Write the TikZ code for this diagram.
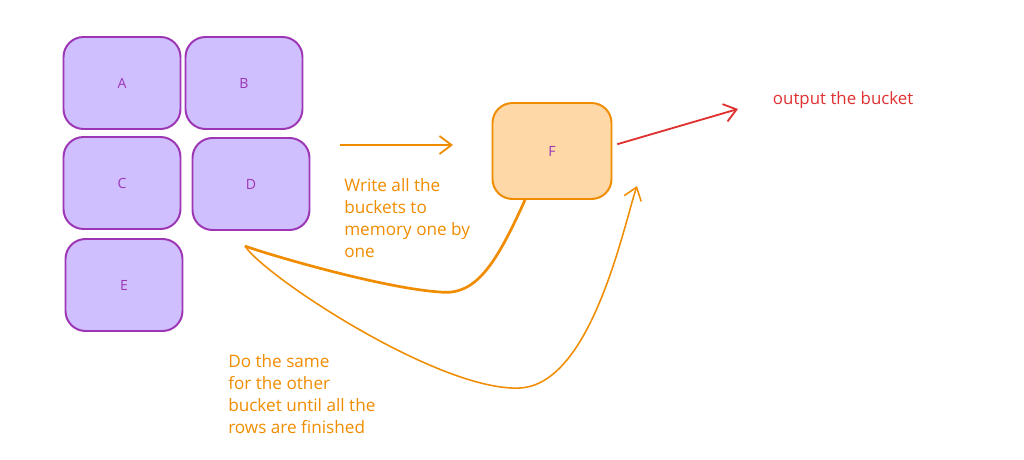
\documentclass[tikz,border=0pt]{standalone}
\usepackage{fontspec}
\setmainfont{Open Sans}
\usetikzlibrary{positioning,arrows.meta}
\definecolor{violetfill}{HTML}{D0BFFF}
\definecolor{violetline}{HTML}{9C36B5}
\definecolor{orangefill}{HTML}{FFD8A8}
\definecolor{orangeline}{HTML}{F08C00}
\definecolor{redline}{HTML}{E03131}
\tikzset{
  bucket/.style={draw=violetline, fill=violetfill, rounded corners=0.5cm, minimum width=2.925cm, minimum height=2.3cm, line width=1.4pt, text=violetline, font=\normalsize},
  membox/.style={bucket, draw=orangeline, fill=orangefill, minimum width=2.975cm, minimum height=2.4cm},
  note/.style={align=left, text=orangeline, font=\fontsize{12.2}{15.6}\selectfont, inner sep=0pt},
  flow/.style={draw=orangeline, line width=1.3pt, -{Straight Barb[length=3mm, width=4.5mm]}}
}
\begin{document}
\begin{tikzpicture}
  \useasboundingbox (0,0) rectangle (25.6,-11.5);
  % buckets
  \node[bucket] (a) at (3.05,-2.075) {A};
  \node[bucket] (b) at (6.1,-2.075) {B};
  \node[bucket] (c) at (3.05,-4.575) {C};
  \node[bucket] (d) at (6.275,-4.6) {D};
  \node[bucket] (e) at (3.1,-7.125) {E};
  \node[membox] (f) at (13.8,-3.775) {F};
  % arrows
  \coordinate (inL) at (8.5,-3.625);
  \coordinate (inR) at (11.325,-3.625);
  \draw[flow] (inL) -- (inR);
  \coordinate (out) at (18.45,-2.725);
  \draw[redline, line width=1.3pt, -{Straight Barb[length=3mm, width=4.5mm]}] ([xshift=0.12cm,yshift=0.17cm]f.east) -- (out);
  \node[anchor=west, text=redline, font=\fontsize{12}{14}\selectfont] (outlbl) at (19.2,-2.5) {output the bucket};
  \coordinate (turn) at (6.125,-6.15);
  \coordinate (back) at (15.925,-4.65);
  \draw[orangeline, line width=1.9pt] ([xshift=-0.675cm]f.south) .. controls (12.4,-6.6) and (11.9,-7.4) .. (11.0,-7.3)
    .. controls (9.5,-7.2) and (6.5,-6.3) .. (turn);
  \draw[flow, line width=1.1pt] (turn) .. controls (6.6,-6.9) and (11.0,-9.8) .. (13.0,-9.7)
    .. controls (14.8,-9.6) and (15.6,-5.6) .. (back);
  % notes
  \node[note, anchor=north west] (write) at (8.6,-4.45) {Write all the\\buckets to\\memory one by\\one};
  \node[note, anchor=north west] (same) at (5.7,-8.85) {Do the same\\for the other\\bucket until all the\\rows are finished};
\end{tikzpicture}
\end{document}
